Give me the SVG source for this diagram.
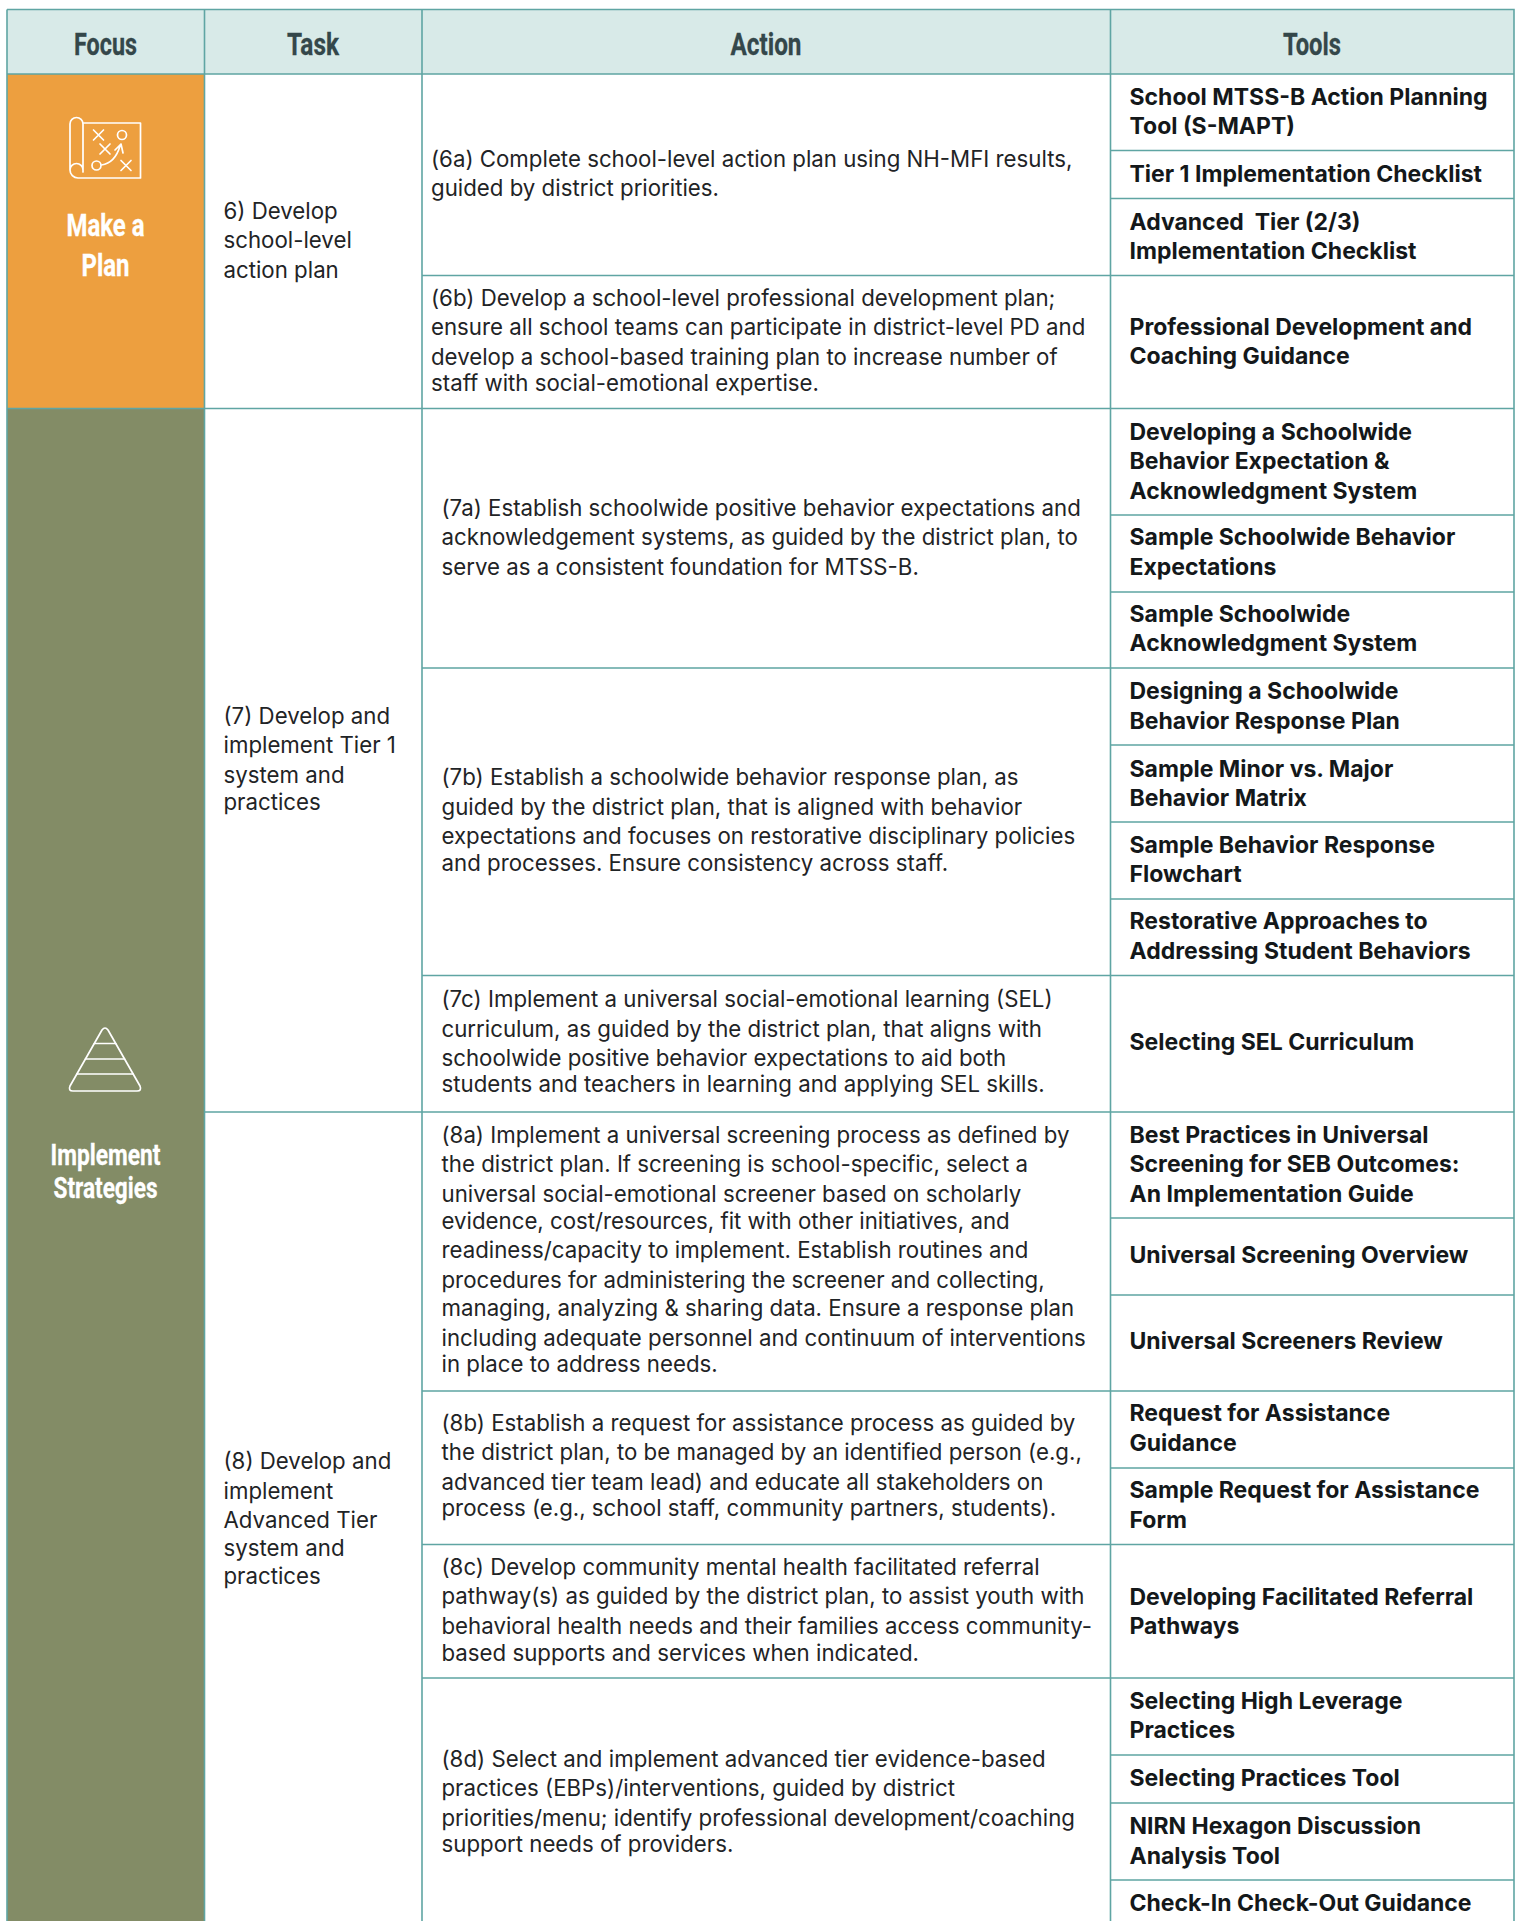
<svg xmlns="http://www.w3.org/2000/svg" width="1520" height="1921" viewBox="0 0 1520 1921">
<style>
text{font-family:"Inter","Liberation Sans",sans-serif}
.b{font-size:22.25px;fill:#1f2426}
.t{font-size:23px;font-weight:700;fill:#14181a}
.h{font-family:"Roboto","Liberation Sans",sans-serif;font-size:32px;font-weight:700;fill:#34474a;text-anchor:middle;stroke:#34474a;stroke-width:.3}
.f{font-family:"Roboto","Liberation Sans",sans-serif;font-size:32px;font-weight:700;fill:#fff;text-anchor:middle;stroke:#fff;stroke-width:.3}
.s{font-size:29px}
.g{stroke:#5fa5a3;stroke-width:1.6;fill:none}
.i{stroke:#fff;stroke-width:1.7;fill:none;stroke-linejoin:round;stroke-linecap:round}
</style>
<rect width="1520" height="1921" fill="#fff"/>
<g id="header">
<rect x="7" y="9.5" width="1507" height="64.5" fill="#d8eae8"/>
<text class="h" x="105.5" y="55" textLength="63" lengthAdjust="spacingAndGlyphs">Focus</text>
<text class="h" x="313" y="55" textLength="52" lengthAdjust="spacingAndGlyphs">Task</text>
<text class="h" x="766" y="55" textLength="71" lengthAdjust="spacingAndGlyphs">Action</text>
<text class="h" x="1312" y="55" textLength="58" lengthAdjust="spacingAndGlyphs">Tools</text>
</g>
<g id="focus-make-a-plan">
<rect x="7" y="74" width="197.500" height="334.500" fill="#ed9f3f"/>
<g class="i">
<path d="M83 123H140.500V178H81M83 172V124a6.500 6.500 0 0 0-13 0V170a8 8 0 0 0 8 8h5M70 170a6.500 6.500 0 0 1 13 0"/>
<path d="M93.500 130l10 10M103.500 130l-10 10M100 144l10 10M110 144l-10 10M121 160.500l10 10M131 160.500l-10 10"/>
<circle cx="122" cy="135" r="4.500"/><circle cx="96.500" cy="165.500" r="4.500"/>
<path d="M101.500 165Q115 163 120 146M115 150L121 144L123 153"/>
</g>
<text class="f" x="105.500" y="236" textLength="78" lengthAdjust="spacingAndGlyphs">Make a</text>
<text class="f" x="105.500" y="276" textLength="48" lengthAdjust="spacingAndGlyphs">Plan</text>
</g>
<g id="focus-implement-strategies">
<rect x="7" y="408.500" width="197.500" height="1512.500" fill="#838c66"/>
<g class="i">
<path d="M102 1030Q105 1026 108 1030L140 1086Q142 1091 137 1091H73Q68 1091 70 1086Z"/>
<path d="M94.300 1043.500H115.700M85.500 1059H124.500M77 1074H133"/>
</g>
<text class="f s" x="105.500" y="1165" textLength="110" lengthAdjust="spacingAndGlyphs">Implement</text>
<text class="f s" x="105.500" y="1198" textLength="104" lengthAdjust="spacingAndGlyphs">Strategies</text>
</g>
<g id="connectors" class="g">
<path d="M7 9.500H1514V1921M7 9.500V1921M204.500 9.500V1921M422 9.500V1921M1110.500 9.500V1921"/>
<path d="M7 74H1514M7 408.500H1514M204.500 1112H1514"/>
<path d="M422 275.500H1514M422 668H1514M422 975.500H1514M422 1391H1514M422 1544.500H1514M422 1678H1514"/>
<path d="M1110.500 150.500H1514M1110.500 198.500H1514M1110.500 515H1514M1110.500 592H1514M1110.500 745H1514M1110.500 822H1514M1110.500 899H1514M1110.500 1218H1514M1110.500 1295H1514M1110.500 1468H1514M1110.500 1755H1514M1110.500 1803H1514M1110.500 1880H1514"/>
</g>
<g id="task-6" class="b"><text x="223.500" y="219">6) Develop</text><text x="223.500" y="248">school-level</text><text x="223.500" y="278">action plan</text></g>
<g id="task-7" class="b"><text x="223.500" y="724">(7) Develop and</text><text x="223.500" y="753">implement Tier 1</text><text x="223.500" y="783">system and</text><text x="223.500" y="810">practices</text></g>
<g id="task-8" class="b"><text x="223.500" y="1469">(8) Develop and</text><text x="223.500" y="1499">implement</text><text x="223.500" y="1528">Advanced Tier</text><text x="223.500" y="1556">system and</text><text x="223.500" y="1584">practices</text></g>
<g id="action-6a" class="b"><text x="431" y="167">(6a) Complete school-level action plan using NH-MFI results,</text><text x="431" y="196">guided by district priorities.</text></g>
<g id="action-6b" class="b"><text x="431" y="306">(6b) Develop a school-level professional development plan;</text><text x="431" y="335">ensure all school teams can participate in district-level PD and</text><text x="431" y="365">develop a school-based training plan to increase number of</text><text x="431" y="391">staff with social-emotional expertise.</text></g>
<g id="action-7a" class="b"><text x="441.500" y="516">(7a) Establish schoolwide positive behavior expectations and</text><text x="441.500" y="545">acknowledgement systems, as guided by the district plan, to</text><text x="441.500" y="575">serve as a consistent foundation for MTSS-B.</text></g>
<g id="action-7b" class="b"><text x="441.500" y="785">(7b) Establish a schoolwide behavior response plan, as</text><text x="441.500" y="815">guided by the district plan, that is aligned with behavior</text><text x="441.500" y="844">expectations and focuses on restorative disciplinary policies</text><text x="441.500" y="871">and processes. Ensure consistency across staff.</text></g>
<g id="action-7c" class="b"><text x="441.500" y="1007">(7c) Implement a universal social-emotional learning (SEL)</text><text x="441.500" y="1037">curriculum, as guided by the district plan, that aligns with</text><text x="441.500" y="1066">schoolwide positive behavior expectations to aid both</text><text x="441.500" y="1092">students and teachers in learning and applying SEL skills.</text></g>
<g id="action-8a" class="b"><text x="441.500" y="1143">(8a) Implement a universal screening process as defined by</text><text x="441.500" y="1172">the district plan. If screening is school-specific, select a</text><text x="441.500" y="1202">universal social-emotional screener based on scholarly</text><text x="441.500" y="1229">evidence, cost/resources, fit with other initiatives, and</text><text x="441.500" y="1258">readiness/capacity to implement. Establish routines and</text><text x="441.500" y="1288">procedures for administering the screener and collecting,</text><text x="441.500" y="1316">managing, analyzing &amp; sharing data. Ensure a response plan</text><text x="441.500" y="1346">including adequate personnel and continuum of interventions</text><text x="441.500" y="1372">in place to address needs.</text></g>
<g id="action-8b" class="b"><text x="441.500" y="1431">(8b) Establish a request for assistance process as guided by</text><text x="441.500" y="1460">the district plan, to be managed by an identified person (e.g.,</text><text x="441.500" y="1490">advanced tier team lead) and educate all stakeholders on</text><text x="441.500" y="1516">process (e.g., school staff, community partners, students).</text></g>
<g id="action-8c" class="b"><text x="441.500" y="1575">(8c) Develop community mental health facilitated referral</text><text x="441.500" y="1604">pathway(s) as guided by the district plan, to assist youth with</text><text x="441.500" y="1634">behavioral health needs and their families access community-</text><text x="441.500" y="1661">based supports and services when indicated.</text></g>
<g id="action-8d" class="b"><text x="441.500" y="1767">(8d) Select and implement advanced tier evidence-based</text><text x="441.500" y="1796">practices (EBPs)/interventions, guided by district</text><text x="441.500" y="1826">priorities/menu; identify professional development/coaching</text><text x="441.500" y="1852">support needs of providers.</text></g>
<g id="tools" class="t">
<g id="tool-smapt"><text x="1129.500" y="105">School MTSS-B Action Planning</text><text x="1129.500" y="134">Tool (S-MAPT)</text></g>
<g id="tool-tier1"><text x="1129.500" y="182">Tier 1 Implementation Checklist</text></g>
<g id="tool-advanced"><text x="1129.500" y="230" xml:space="preserve">Advanced  Tier (2/3)</text><text x="1129.500" y="259">Implementation Checklist</text></g>
<g id="tool-pd"><text x="1129.500" y="335">Professional Development and</text><text x="1129.500" y="364">Coaching Guidance</text></g>
<g id="tool-expectation"><text x="1129.500" y="440">Developing a Schoolwide</text><text x="1129.500" y="469">Behavior Expectation &amp;</text><text x="1129.500" y="499">Acknowledgment System</text></g>
<g id="tool-sample-exp"><text x="1129.500" y="545">Sample Schoolwide Behavior</text><text x="1129.500" y="575">Expectations</text></g>
<g id="tool-sample-ack"><text x="1129.500" y="622">Sample Schoolwide</text><text x="1129.500" y="651">Acknowledgment System</text></g>
<g id="tool-response"><text x="1129.500" y="699">Designing a Schoolwide</text><text x="1129.500" y="729">Behavior Response Plan</text></g>
<g id="tool-matrix"><text x="1129.500" y="777">Sample Minor vs. Major</text><text x="1129.500" y="806">Behavior Matrix</text></g>
<g id="tool-flowchart"><text x="1129.500" y="853">Sample Behavior Response</text><text x="1129.500" y="882">Flowchart</text></g>
<g id="tool-restorative"><text x="1129.500" y="929">Restorative Approaches to</text><text x="1129.500" y="959">Addressing Student Behaviors</text></g>
<g id="tool-sel"><text x="1129.500" y="1050">Selecting SEL Curriculum</text></g>
<g id="tool-best"><text x="1129.500" y="1143">Best Practices in Universal</text><text x="1129.500" y="1172">Screening for SEB Outcomes:</text><text x="1129.500" y="1202">An Implementation Guide</text></g>
<g id="tool-overview"><text x="1129.500" y="1263">Universal Screening Overview</text></g>
<g id="tool-review"><text x="1129.500" y="1349">Universal Screeners Review</text></g>
<g id="tool-rfa"><text x="1129.500" y="1421">Request for Assistance</text><text x="1129.500" y="1451">Guidance</text></g>
<g id="tool-rfa-form"><text x="1129.500" y="1498">Sample Request for Assistance</text><text x="1129.500" y="1528">Form</text></g>
<g id="tool-referral"><text x="1129.500" y="1605">Developing Facilitated Referral</text><text x="1129.500" y="1634">Pathways</text></g>
<g id="tool-hlp"><text x="1129.500" y="1709">Selecting High Leverage</text><text x="1129.500" y="1738">Practices</text></g>
<g id="tool-practices"><text x="1129.500" y="1786">Selecting Practices Tool</text></g>
<g id="tool-nirn"><text x="1129.500" y="1834">NIRN Hexagon Discussion</text><text x="1129.500" y="1864">Analysis Tool</text></g>
<g id="tool-cico"><text x="1129.500" y="1911">Check-In Check-Out Guidance</text></g>
</g>
</svg>
